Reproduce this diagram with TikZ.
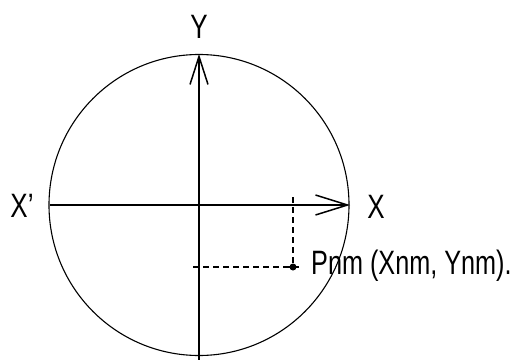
\documentclass[tikz,border=0pt]{standalone}
\usepackage{fontspec}
\setmainfont{Liberation Sans}
\usetikzlibrary{arrows.meta,calc}
\begin{document}
\begin{tikzpicture}[x=1pt,y=-1pt,
  axis/.style={line width=1.5pt},
  guide/.style={line width=1.1pt,dash pattern=on 6pt off 4pt},
  lbl/.style={font=\fontsize{26}{30}\selectfont, inner sep=0pt}]
\useasboundingbox (0,0) rectangle (522,359);
\fill[white] (0,0) rectangle (522,359);
\coordinate (O) at (199,205);
\draw[line width=1.1pt] (O) circle[x radius=150, y radius=150.5];
\coordinate (L) at (50,205);
\coordinate (R) at (350,205);
\coordinate (T) at (199,54);
\coordinate (B) at (199,362);
\draw[axis,-{Straight Barb[length=32pt,width=20pt,line width=1.5pt]}] (L) -- (R);
\draw[axis,-{Straight Barb[length=28pt,width=18pt,line width=1.5pt]}] (B) -- (T);
\coordinate (P) at (293,267);
\coordinate (Px) at (293,197);
\coordinate (Py) at (193,267);
\draw[guide] (Px) -- (P);
\draw[guide] (Py) -- (P);
\fill (P) circle[radius=3.5];
\draw[line width=1.1pt] ($(P)+(-6,0)$) -- ($(P)+(6,0)$);
\node[lbl] (ylab) at (199,27) {\scalebox{1}[1.3]{Y}};
\node[lbl] (xplab) at (22,206) {\scalebox{1}[1.3]{X'}};
\node[lbl] (xlab) at (376,207) {\scalebox{1}[1.3]{X}};
\node[lbl,anchor=west] (plab) at (311,266) {\scalebox{0.97}[1.3]{Pnm (Xnm, Ynm).}};
\end{tikzpicture}
\end{document}
